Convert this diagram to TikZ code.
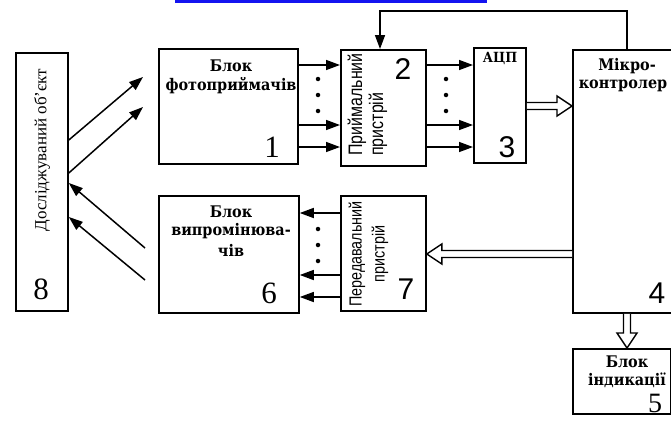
\documentclass[tikz,border=0pt]{standalone}
\usepackage{fontspec}
\setmainfont{Liberation Serif}
\newfontfamily\bserif{DejaVu Serif Condensed}
\newfontfamily\sansf{Liberation Sans}
\newfontfamily\sansn{Liberation Sans}[FakeStretch=0.82]
\usetikzlibrary{arrows.meta,calc}
\definecolor{linkblue}{RGB}{20,20,240}
\tikzset{
  box/.style={draw, line width=1.8pt, inner sep=0pt, anchor=north west},
  arr/.style={line width=1.5pt, -{Triangle[length=14pt,width=10pt]}},
  hollow/.style={line width=1.4pt, fill=white, line join=miter},
  dotnode/.style={circle, fill, inner sep=0pt, minimum size=4.5pt},
  blbl/.style={inner sep=0pt, font=\bserif\bfseries\fontsize{16}{18}\selectfont},
  numS/.style={inner sep=0pt, font=\sansf\fontsize{30}{32}\selectfont},
  numR/.style={inner sep=0pt, font=\fontsize{31}{33}\selectfont},
  vtxt/.style={inner sep=0pt, rotate=90, font=\sansn\fontsize{17.5}{20}\selectfont},
  vtxtb/.style={inner sep=0pt, rotate=90, font=\sansn\fontsize{19.5}{22}\selectfont},
}
\begin{document}
\begin{tikzpicture}[x=1pt,y=-1pt]
\clip (0,0) rectangle (671,423);
\fill[white] (0,0) rectangle (671,423);
\fill[linkblue] (175,0) rectangle (487,3);
% boxes
\node[box, minimum width=52, minimum height=258] (b8) at (15,52) {};
\node[box, minimum width=139, minimum height=115] (b1) at (158,48) {};
\node[box, minimum width=85, minimum height=116] (b2) at (340,49) {};
\node[box, minimum width=52, minimum height=115] (b3) at (473,47) {};
\node[box, minimum width=114, minimum height=263] (b4) at (572,49) {};
\node[box, minimum width=98, minimum height=65] (b5) at (572,348) {};
\node[box, minimum width=140, minimum height=117] (b6) at (158,195) {};
\node[box, minimum width=85, minimum height=115] (b7) at (340,195) {};
% texts
\node[blbl] (t1a) at (231,66) {Блок};
\node[blbl] (t1b) at (231,86) {фотоприймачів};
\node[numR] (n1) at (272,147) {1};
\node[vtxtb, anchor=west] (t2a) at (357,156) {Приймальний};
\node[vtxtb, anchor=west] (t2b) at (378,156) {пристрій};
\node[numS] (n2) at (403,69) {2};
\node[blbl, font=\bserif\bfseries\fontsize{14}{16}\selectfont] (t3) at (500,58) {АЦП};
\node[numS] (n3) at (507,147) {3};
\node[blbl] (t4a) at (627,66) {Мікро-};
\node[blbl] (t4b) at (623,86) {контролер};
\node[numS] (n4) at (657,293) {4};
\node[blbl] (t5a) at (627,362) {Блок};
\node[blbl] (t5b) at (627,380) {індикації};
\node[numR, font=\fontsize{28}{30}\selectfont] (n5) at (655,403) {5};
\node[blbl] (t6a) at (231,212) {Блок};
\node[blbl] (t6b) at (231,231) {випромінюва-};
\node[blbl] (t6c) at (231,250) {чів};
\node[numR] (n6) at (269,293) {6};
\node[vtxt] (t7a) at (357,254) {Передавальний};
\node[vtxt] (t7b) at (380,254) {пристрій};
\node[numS] (n7) at (406,289) {7};
\node[inner sep=0pt, rotate=90, font=\fontsize{17}{19}\selectfont] (t8) at (42,150) {Досліджуваний об’єкт};
\node[numR] (n8) at (41,289) {8};
% dots
\foreach \x in {318,446} {\foreach \y in {79,95,111} {\node[dotnode] at (\x,\y) {};}}
\foreach \y in {229,245,261} {\node[dotnode] at (318,\y) {};}
% single arrows
\foreach \y in {65,125,147} {
  \draw[arr] (b1.east |- 0,\y) -- (b2.west |- 0,\y);
  \draw[arr] (b2.east |- 0,\y) -- (b3.west |- 0,\y);
}
\foreach \y in {213,275,297} {\draw[arr] (b7.west |- 0,\y) -- (b6.east |- 0,\y);}
% hollow double arrows
\coordinate (h1s) at (b3.east |- 0,106);
\coordinate (h1t) at (b4.west |- 0,106);
\draw[hollow] ($(h1s)+(0,-3.5)$) -- ($(h1t)+(-15,-3.5)$) -- ($(h1t)+(-15,-10)$) -- (h1t)
  -- ($(h1t)+(-15,10)$) -- ($(h1t)+(-15,3.5)$) -- ($(h1s)+(0,3.5)$);
\coordinate (h2s) at (b4.west |- 0,254);
\coordinate (h2t) at (b7.east |- 0,254);
\draw[hollow] ($(h2s)+(0,-3.5)$) -- ($(h2t)+(15,-3.5)$) -- ($(h2t)+(15,-10)$) -- (h2t)
  -- ($(h2t)+(15,10)$) -- ($(h2t)+(15,3.5)$) -- ($(h2s)+(0,3.5)$);
\coordinate (h3s) at (b4.south -| 627,0);
\coordinate (h3t) at (b5.north -| 627,0);
\draw[hollow] ($(h3s)+(-3.5,0)$) -- ($(h3t)+(-3.5,-15)$) -- ($(h3t)+(-10,-15)$) -- (h3t)
  -- ($(h3t)+(10,-15)$) -- ($(h3t)+(3.5,-15)$) -- ($(h3s)+(3.5,0)$);
% feedback
\coordinate (fb1) at (627,11);
\coordinate (fb2) at (380,11);
\draw[arr] (b4.north -| fb1) -- (fb1) -- (fb2) -- (b2.north -| fb2);
% object arrows
\coordinate (o1) at (143,77);
\coordinate (o2) at (143,107);
\coordinate (i1) at (145,248);
\coordinate (i2) at (145,280);
\draw[arr] (b8.east |- 0,140) -- (o1);
\draw[arr] (b8.east |- 0,173) -- (o2);
\draw[arr] (i1) -- (b8.east |- 0,183);
\draw[arr] (i2) -- (b8.east |- 0,217);
\end{tikzpicture}
\end{document}
